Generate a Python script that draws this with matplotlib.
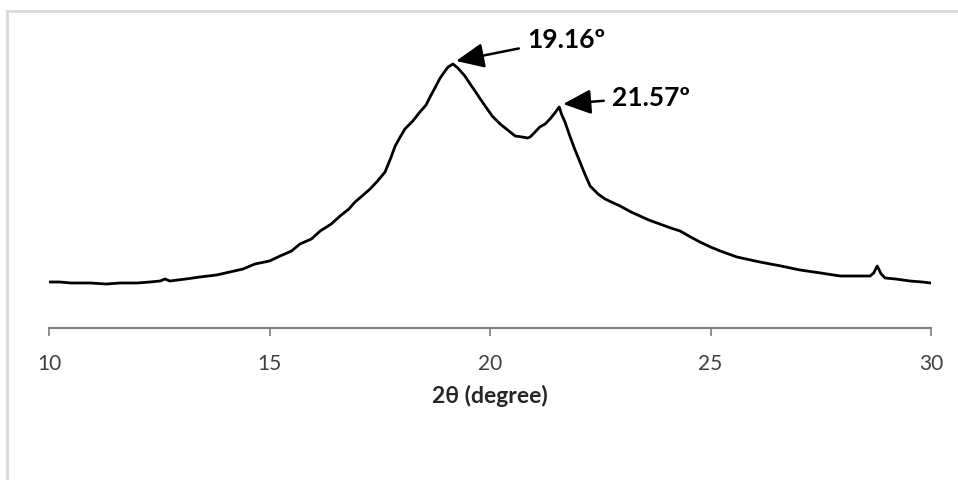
import numpy as np
import matplotlib.pyplot as plt
from matplotlib.patches import Rectangle

# 2theta (degree) and intensity (a.u.)
two_theta = [10.00, 10.25, 10.50, 10.93, 11.30, 11.61, 12.00, 12.29, 12.52, 12.63, 12.74,
             13.10, 13.42, 13.80, 14.10, 14.40, 14.67, 15.00, 15.24, 15.50, 15.69, 15.95,
             16.15, 16.40, 16.60, 16.80, 16.94, 17.10, 17.28, 17.45, 17.62, 17.75, 17.85,
             17.95, 18.07, 18.25, 18.41, 18.55, 18.64, 18.75, 18.87, 18.98, 19.05, 19.16,
             19.27, 19.35, 19.43, 19.55, 19.66, 19.78, 19.89, 20.05, 20.23, 20.40, 20.57,
             20.73, 20.85, 20.91, 21.00, 21.13, 21.25, 21.36, 21.47, 21.57, 21.62, 21.70,
             21.81, 21.92, 22.04, 22.15, 22.27, 22.45, 22.61, 22.80, 22.95, 23.20, 23.40,
             23.60, 23.85, 24.10, 24.31, 24.55, 24.76, 25.00, 25.22, 25.60, 26.12, 26.60,
             27.03, 27.50, 27.94, 28.30, 28.62, 28.70, 28.78, 28.87, 28.96, 29.20, 29.52,
             29.80, 30.00]
intensity = [46, 46, 45, 45, 44, 45, 45, 46, 47, 49, 47,
             49, 51, 53, 56, 59, 64, 67, 72, 77, 84, 89,
             97, 104, 112, 119, 126, 132, 139, 147, 156, 170, 182,
             190, 199, 207, 216, 223, 231, 240, 250, 257, 261, 264,
             260, 256, 252, 244, 237, 229, 222, 212, 204, 198, 192,
             191, 190, 191, 195, 201, 204, 209, 215, 221, 214, 206,
             192, 179, 166, 154, 142, 134, 129, 125, 122, 116, 112,
             108, 104, 100, 97, 91, 86, 81, 77, 71, 66, 62,
             58, 55, 52, 52, 52, 55, 62, 54, 50, 49, 47,
             46, 45]

tick_vals = [10, 15, 20, 25, 30]
peak_labels = ['19.16º', '21.57º']
peak_tips = [(19.23, 267), (21.66, 224)]
peak_text = [(20.84, 289), (22.77, 231)]

fig = plt.figure(figsize=(9.58, 4.81), dpi=100)
ax = fig.add_axes([49 / 958, (481 - 329) / 481, 882 / 958, 309 / 481])

ax.plot(two_theta, intensity, color='black', lw=2)

ax.set_xlim(10, 30)
ax.set_ylim(0, 309)
ax.set_xticks(tick_vals)
ax.set_yticks([])
for s in ['top', 'right', 'left']:
    ax.spines[s].set_visible(False)
ax.spines['bottom'].set_color('#7f7f7f')
ax.spines['bottom'].set_linewidth(1.5)
ax.tick_params(axis='x', direction='out', length=6, width=1.2, color='#7f7f7f',
               labelsize=15, labelcolor='#404040', pad=12)
for lab in ax.get_xticklabels():
    lab.set_family('Lato')

ax.set_xlabel('2θ (degree)', fontsize=16.5, fontweight='bold', color='#262626',
              family=['Lato', 'DejaVu Sans'], labelpad=8)

for lab, tip, txt in zip(peak_labels, peak_tips, peak_text):
    ax.annotate(lab, xy=tip, xytext=txt, fontsize=19, fontweight='bold',
                family=['Lato', 'DejaVu Sans'], ha='left', va='center',
                arrowprops=dict(arrowstyle='-|>,head_length=0.9,head_width=0.4',
                                color='black', lw=1.8, shrinkA=4, shrinkB=0))

# light frame round the chart area
fig.add_artist(Rectangle((7 / 958, -0.1), 1.2, (481 - 12) / 481 + 0.1,
                         transform=fig.transFigure, fill=False,
                         edgecolor='#d9d9d9', lw=2))

fig.savefig('out.png', dpi=100)
